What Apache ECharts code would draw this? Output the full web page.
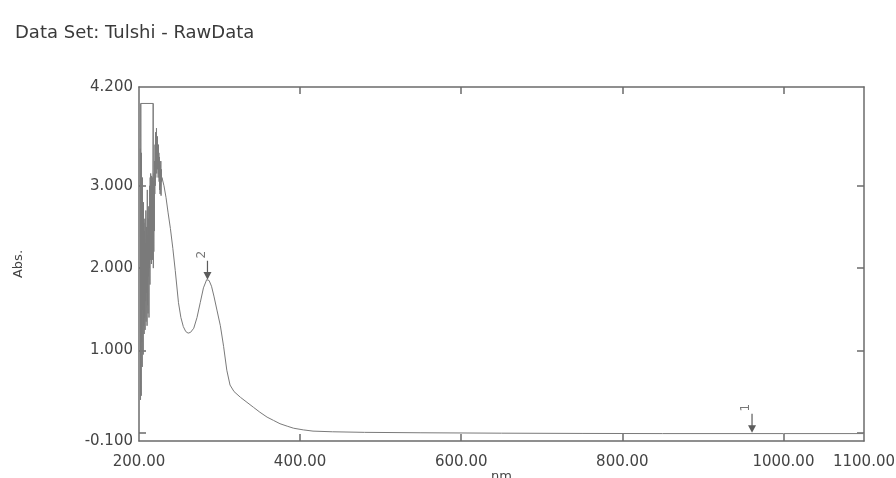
<!DOCTYPE html>
<html>
<head>
<meta charset="utf-8">
<title>Data Set: Tulshi - RawData</title>
<script src="https://cdn.jsdelivr.net/npm/echarts@6/dist/echarts.min.js"></script>
<style>
  html, body { margin: 0; padding: 0; background: #fff; }
  #main { width: 896px; height: 478px; }
</style>
</head>
<body>
<div id="main"></div>
<script>
// scan trace, wavelength (nm) and absorbance
var wavelength = [
  201.6, 201.9, 202.2, 202.5, 202.8, 203.1, 203.4, 203.7, 204.0, 204.3,
  204.6, 204.9, 205.2, 205.5, 205.8, 206.1, 206.4, 206.7, 207.0, 207.3,
  207.6, 207.9, 208.2, 208.5, 208.8, 209.1, 209.4, 209.7, 210.0, 210.3,
  210.6, 210.9, 211.2, 211.5, 211.8, 212.1, 212.4, 212.7, 213.0, 213.3,
  213.6, 213.9, 214.2, 214.5, 214.8, 215.1, 215.4, 215.7, 216.0, 216.3,
  216.6, 216.9, 217.2, 217.6, 217.8, 218.1, 218.4, 218.7, 219.0, 219.3,
  219.6, 219.9, 220.2, 220.5, 220.8, 221.1, 221.4, 221.7, 222.0, 222.3,
  222.6, 222.9, 223.2, 223.5, 223.8, 224.1, 224.4, 224.7, 225.0, 225.3,
  225.6, 225.9, 226.2, 226.5, 226.8, 227.1, 227.4, 227.7, 228.0, 228.5,
  231, 233.5, 236, 239, 242, 245, 249, 252, 255, 258,
  261, 264, 268, 272, 276, 280, 284, 287, 290, 293,
  297, 301, 305, 309, 313, 318, 326, 334, 342, 350,
  359, 367, 375, 384, 392, 404, 416, 440, 480, 550,
  650, 750, 850, 1000, 1100
];
var absorbance = [
  3.45, 0.40, 4.00, 2.40, 0.45, 3.40, 1.10, 2.90, 0.80, 3.10,
  1.50, 2.60, 0.95, 2.80, 1.30, 2.55, 1.20, 2.45, 1.40, 2.60,
  1.25, 2.30, 1.60, 2.70, 1.35, 2.50, 1.70, 2.40, 1.30, 2.95,
  1.55, 2.35, 1.45, 2.60, 1.90, 2.75, 1.40, 2.50, 2.00, 3.00,
  1.80, 3.10, 2.10, 3.15, 2.30, 3.05, 2.05, 3.12, 2.40, 3.00,
  2.10, 3.10, 2.60, 4.00, 2.00, 3.05, 2.20, 3.15, 2.45, 3.30,
  2.90, 3.50, 3.00, 3.65, 3.10, 3.55, 3.20, 3.70, 3.15, 3.50,
  3.25, 3.60, 3.20, 3.45, 3.10, 3.50, 3.15, 3.40, 3.05, 3.35,
  2.95, 3.30, 2.90, 3.25, 3.00, 3.30, 2.88, 3.20, 3.05, 3.10,
  3.00, 2.86, 2.68, 2.48, 2.24, 1.97, 1.58, 1.40, 1.29, 1.23,
  1.21, 1.22, 1.27, 1.40, 1.58, 1.76, 1.86, 1.85, 1.78, 1.66,
  1.48, 1.30, 1.05, 0.76, 0.58, 0.50, 0.43, 0.37, 0.31, 0.25,
  0.19, 0.15, 0.11, 0.08, 0.055, 0.035, 0.02, 0.012, 0.005, 0.0,
  -0.005, -0.008, -0.01, -0.01, -0.01
];

// detector saturation segment at the top
var satNm = [202.2, 217.6];
var satAbs = [4.0, 4.0];

// peak pick markers
var markNm = [961, 285];
var markAbs = [0.0, 1.86];
var markLabels = ['1', '2'];

var xTicks = [400, 600, 800, 1000];
var xLabels = [200, 400, 600, 800, 1000, 1100];
var yTicks = [0, 1, 2, 3];
var yLabels = [-0.1, 1, 2, 3, 4.2];

var frameColor = '#6b6b6b';
var textColor = '#444';
var font = 'DejaVu Sans';

function zip(xs, ys) {
    return xs.map(function (x, i) { return [x, ys[i]]; });
}

var myChart = echarts.init(document.getElementById('main'));

function xAxisOf(pos, withLabels) {
    return {
        type: 'value',
        position: pos,
        min: 200,
        max: 1100,
        splitLine: {show: false},
        axisLine: {show: true, onZero: false, lineStyle: {color: frameColor, width: 1.5}},
        axisTick: {show: true, inside: true, length: 7, customValues: xTicks,
            lineStyle: {color: frameColor, width: 1.5}},
        axisLabel: {
            show: withLabels,
            customValues: xLabels,
            margin: 14,
            color: textColor,
            fontFamily: font,
            fontSize: 15,
            formatter: function (v) { return v.toFixed(2); }
        },
        name: withLabels ? 'nm' : '',
        nameLocation: 'middle',
        nameGap: 29,
        nameMoveOverlap: false,
        nameTextStyle: {color: textColor, fontFamily: font, fontSize: 13}
    };
}

function yAxisOf(pos, withLabels) {
    return {
        type: 'value',
        position: pos,
        min: -0.1,
        max: 4.2,
        splitLine: {show: false},
        axisLine: {show: true, onZero: false, lineStyle: {color: frameColor, width: 1.5}},
        axisTick: {show: true, inside: true, length: 7, customValues: yTicks,
            lineStyle: {color: frameColor, width: 1.5}},
        axisLabel: {
            show: withLabels,
            customValues: yLabels,
            margin: 6,
            color: textColor,
            fontFamily: font,
            fontSize: 15,
            formatter: function (v) { return v.toFixed(3); }
        },
        name: withLabels ? 'Abs.' : '',
        nameLocation: 'middle',
        nameGap: 114,
        nameRotate: 90,
        nameMoveOverlap: false,
        nameTextStyle: {color: textColor, fontFamily: font, fontSize: 13}
    };
}

myChart.setOption({
    animation: false,
    backgroundColor: '#fff',
    title: {
        text: 'Data Set: Tulshi - RawData',
        left: 10,
        top: 19,
        textStyle: {color: '#3a3a3a', fontFamily: font, fontWeight: 'normal', fontSize: 18}
    },
    grid: {left: 139, right: 32, top: 87, bottom: 37, containLabel: false, outerBoundsMode: 'none'},
    xAxis: [xAxisOf('bottom', true), xAxisOf('top', false)],
    yAxis: [yAxisOf('left', true), yAxisOf('right', false)],
    series: [
        {
            name: 'RawData',
            type: 'line',
            showSymbol: false,
            lineStyle: {color: '#7a7a7a', width: 1},
            data: zip(wavelength, absorbance)
        },
        {
            name: 'saturation',
            type: 'line',
            showSymbol: false,
            lineStyle: {color: '#7a7a7a', width: 1},
            data: zip(satNm, satAbs)
        },
        {
            name: 'peaks',
            type: 'scatter',
            symbol: 'path://M4.4,0 L5.6,0 L5.6,12 L9,12 L5,20 L1,12 L4.4,12 Z',
            symbolSize: [8, 19],
            symbolOffset: [0, '-50%'],
            itemStyle: {color: '#333'},
            label: {
                show: true,
                position: 'top',
                distance: 6,
                rotate: 90,
                color: '#555',
                fontFamily: font,
                fontSize: 12,
                formatter: function (p) { return markLabels[p.dataIndex]; }
            },
            data: zip(markNm, markAbs)
        }
    ]
});
</script>
</body>
</html>
